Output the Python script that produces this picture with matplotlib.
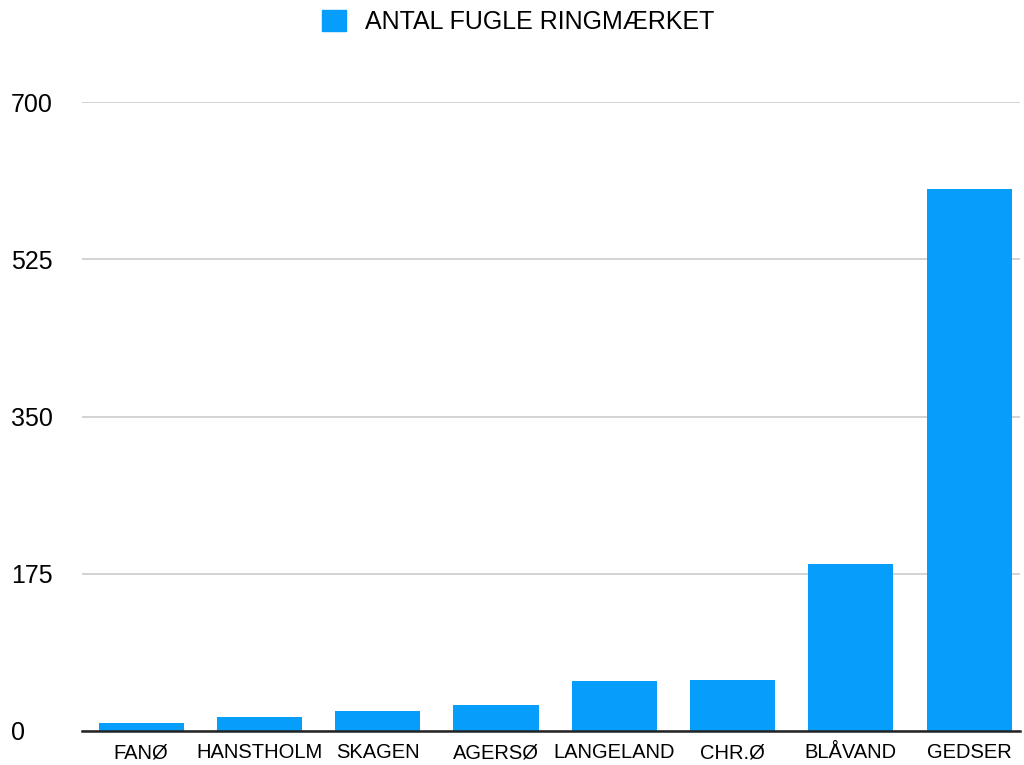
import matplotlib.pyplot as plt
from matplotlib.patches import Patch

# Data
steder = ["FANØ", "HANSTHOLM", "SKAGEN", "AGERSØ", "LANGELAND", "CHR.Ø", "BLÅVAND", "GEDSER"]
antal = [9, 16, 22, 29, 56, 57, 186, 603]
y_ticks = [0, 175, 350, 525, 700]

farve = "#069DFB"

plt.rcParams['font.family'] = ['Liberation Sans', 'DejaVu Sans']

fig = plt.figure(figsize=(10.24, 7.65), dpi=100)
ax = fig.add_axes([82 / 1024, 1 - 731 / 765, (1020 - 82) / 1024, (731 - 102) / 765])

x = range(len(steder))
ax.bar(x, antal, width=0.72, color=farve, zorder=3)

ax.set_xlim(-0.5, len(steder) - 0.57)
ax.set_ylim(0, 700)
ax.set_yticks(y_ticks)
ax.set_yticklabels([str(v) for v in y_ticks], fontsize=18)
for lbl in ax.get_yticklabels():
    lbl.set_horizontalalignment('left')
ax.tick_params(axis='y', length=0, pad=51)
ax.set_xticks(list(x))
ax.set_xticklabels(steder, fontsize=14.5)
ax.tick_params(axis='x', length=0, pad=9)

ax.grid(axis='y', color='#cccccc', linewidth=1.2, zorder=0)
for s in ['left', 'right', 'top']:
    ax.spines[s].set_visible(False)
ax.spines['bottom'].set_linewidth(1.8)
ax.spines['bottom'].set_color('#222222')
ax.spines['bottom'].set_zorder(4)

fig.legend(handles=[Patch(color=farve, label="ANTAL FUGLE RINGMÆRKET")],
           loc='center', bbox_to_anchor=(518 / 1024, 1 - 22 / 765),
           frameon=False, fontsize=18, handlelength=0.95, handleheight=0.95,
           handletextpad=0.75)

fig.savefig("out.png", dpi=100)
